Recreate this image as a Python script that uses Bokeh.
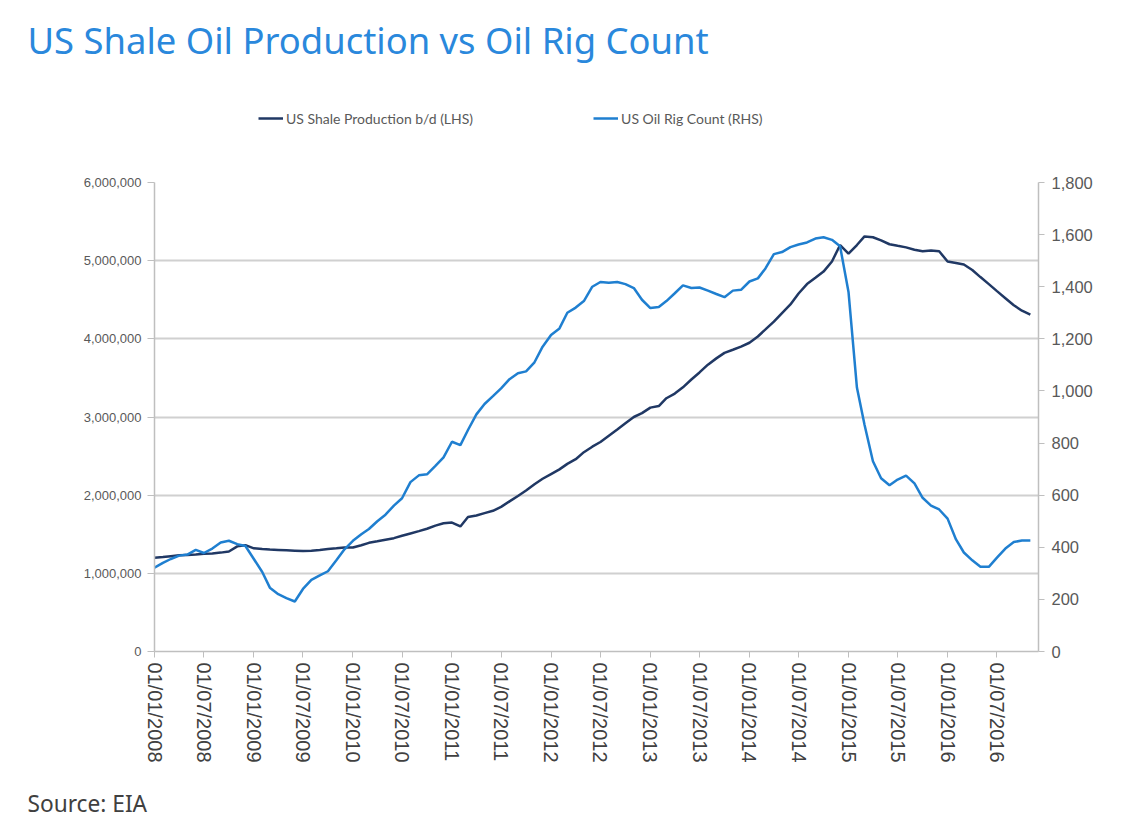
import pandas as pd
from bokeh.plotting import figure
from bokeh.layouts import column
from bokeh.models import (Range1d, LinearAxis, FixedTicker, NumeralTickFormatter,
                          DatetimeTickFormatter, Legend, LegendItem, Title)
from bokeh.embed import file_html
from bokeh.resources import INLINE
import math

# ---------------- data ----------------
months = pd.date_range("2008-01-01", "2016-11-01", freq="MS")

shale_production = [
    1200000, 1210000, 1220000, 1230000, 1235000, 1240000, 1250000, 1255000, 1265000, 1280000, 1345000, 1360000,
    1320000, 1310000, 1305000, 1300000, 1295000, 1290000, 1285000, 1290000, 1300000, 1310000, 1320000, 1330000,
    1330000, 1360000, 1390000, 1410000, 1430000, 1450000, 1480000, 1510000, 1540000, 1570000, 1610000, 1640000,
    1650000, 1600000, 1720000, 1740000, 1770000, 1800000, 1850000, 1920000, 1990000, 2060000, 2140000, 2210000,
    2270000, 2330000, 2400000, 2460000, 2550000, 2620000, 2680000, 2760000, 2840000, 2920000, 3000000, 3050000,
    3120000, 3140000, 3240000, 3300000, 3380000, 3480000, 3570000, 3670000, 3750000, 3820000, 3860000, 3900000,
    3950000, 4030000, 4120000, 4220000, 4330000, 4440000, 4580000, 4700000, 4780000, 4860000, 4990000, 5200000,
    5090000, 5200000, 5310000, 5300000, 5260000, 5210000, 5190000, 5170000, 5140000, 5120000, 5130000, 5120000,
    4990000, 4970000, 4950000, 4880000, 4790000, 4700000, 4610000, 4520000, 4430000, 4360000, 4310000,
]

oil_rig_count = [
    322, 340, 355, 368, 372, 390, 378, 395, 418, 425, 412, 405,
    355, 305, 245, 220, 205, 192, 240, 275, 292, 308, 350, 392,
    425, 450, 470, 500, 525, 560, 588, 650, 676, 680, 712, 745,
    805, 792, 850, 910, 950, 980, 1010, 1045, 1068, 1075, 1110, 1170,
    1215, 1240, 1300, 1320, 1345, 1400, 1418, 1415, 1418, 1410, 1395, 1350,
    1318, 1322, 1345, 1375, 1405, 1395, 1397, 1385, 1372, 1360, 1385, 1388,
    1420, 1432, 1470, 1525, 1533, 1552, 1562, 1570, 1585, 1590, 1580, 1555,
    1380, 1013, 870, 730, 665, 638, 660, 675, 645, 590, 560, 545,
    510, 430, 380, 350, 325, 325, 360, 395, 420, 426, 426,
]

x_tick_dates = pd.date_range("2008-01-01", "2016-07-01", freq="6MS")
left_ticks = [0, 1000000, 2000000, 3000000, 4000000, 5000000, 6000000]
right_ticks = [0, 200, 400, 600, 800, 1000, 1200, 1400, 1600, 1800]

title_text = "US Shale Oil Production vs Oil Rig Count"
source_text = "Source: EIA"
series_names = ["US Shale Production b/d (LHS)", "US Oil Rig Count (RHS)"]

# ---------------- styles ----------------
PROD_COLOR = "#203864"
RIG_COLOR = "#1F7FD0"
TITLE_COLOR = "#2A88DC"
TEXT_GRAY = "#595959"
AXIS_GRAY = "#BFBFBF"
GRID_GRAY = "#D0D0D0"

x_start = pd.Timestamp("2008-01-01")
x_end = pd.Timestamp("2016-12-01")

TOP_H = 172
MAIN_H = 839 - TOP_H

# ---------------- header figure (title + legend) ----------------
head = figure(width=1128, height=TOP_H, x_range=Range1d(x_start, x_end),
              y_range=Range1d(0, 6000000), x_axis_type="datetime",
              x_axis_location=None, y_axis_location=None,
              output_backend="svg", toolbar_location=None,
              min_border_left=154, min_border_right=90,
              min_border_top=64, min_border_bottom=0,
              background_fill_color="white", border_fill_color="white")
head.outline_line_color = None
head.grid.visible = False
h1 = head.line(months, shale_production, line_color=PROD_COLOR, line_width=2.5, visible=False)
h2 = head.line(months, shale_production, line_color=RIG_COLOR, line_width=2.5, visible=False)

head.add_layout(Title(text=title_text, align="left", offset=-127, standoff=0,
                      text_font="Noto Sans", text_font_size="36.4px", text_font_style="normal",
                      text_color=TITLE_COLOR), "above")

legend = Legend(items=[LegendItem(label=series_names[0], renderers=[h1]),
                       LegendItem(label=series_names[1], renderers=[h2])],
                orientation="horizontal", location=(104, TOP_H - 128),
                border_line_color=None, background_fill_alpha=0,
                inactive_fill_alpha=0,
                padding=0, margin=0, spacing=120, glyph_width=25, glyph_height=20,
                label_standoff=3, label_text_font="Lato", label_text_font_size="14px",
                label_text_color=TEXT_GRAY)
head.add_layout(legend, "center")

# ---------------- main chart ----------------
p = figure(width=1128, height=MAIN_H, x_axis_type="datetime",
           x_range=Range1d(x_start, x_end), y_range=Range1d(0, 6000000),
           output_backend="svg", toolbar_location=None,
           min_border_left=154, min_border_right=90,
           min_border_top=182 - TOP_H, min_border_bottom=188,
           background_fill_color="white", border_fill_color="white")
p.outline_line_color = None
p.extra_y_ranges = {"rig": Range1d(0, 1800)}

# left axis
yax = p.yaxis[0]
yax.ticker = FixedTicker(ticks=left_ticks)
yax.formatter = NumeralTickFormatter(format="0,0")
yax.axis_line_color = AXIS_GRAY
yax.axis_line_width = 1.5
yax.major_tick_line_color = AXIS_GRAY
yax.major_tick_out = 7
yax.major_tick_in = 0
yax.minor_tick_line_color = None
yax.major_label_text_font = "Liberation Sans"
yax.major_label_text_font_size = "13px"
yax.major_label_text_color = TEXT_GRAY
yax.major_label_standoff = 6

# right axis
rax = LinearAxis(y_range_name="rig", ticker=FixedTicker(ticks=right_ticks),
                 formatter=NumeralTickFormatter(format="0,0"))
rax.axis_line_color = AXIS_GRAY
rax.axis_line_width = 1.5
rax.major_tick_line_color = AXIS_GRAY
rax.major_tick_out = 6
rax.major_tick_in = 0
rax.minor_tick_line_color = None
rax.major_label_text_font = "Liberation Sans"
rax.major_label_text_font_size = "16.5px"
rax.major_label_text_color = TEXT_GRAY
rax.major_label_standoff = 7
p.add_layout(rax, "right")

# bottom axis
xax = p.xaxis[0]
xax.ticker = FixedTicker(ticks=[d.value // 10**6 for d in x_tick_dates])
xax.formatter = DatetimeTickFormatter(days="%d/%m/%Y", months="%d/%m/%Y", years="%d/%m/%Y")
xax.major_label_orientation = -math.pi / 2
xax.axis_line_color = AXIS_GRAY
xax.axis_line_width = 1.5
xax.major_tick_line_color = AXIS_GRAY
xax.major_tick_out = 6
xax.major_tick_in = 0
xax.minor_tick_line_color = None
xax.major_label_text_font = "Liberation Sans"
xax.major_label_text_font_size = "20px"
xax.major_label_text_color = "#404040"
xax.major_label_standoff = 5

p.xgrid.grid_line_color = None
p.ygrid.grid_line_color = GRID_GRAY
p.ygrid.grid_line_width = 2

r1 = p.line(months, shale_production, line_color=PROD_COLOR, line_width=2.5)
r2 = p.line(months, oil_rig_count, line_color=RIG_COLOR, line_width=2.5, y_range_name="rig")

p.add_layout(Title(text=source_text, align="left", offset=-127, standoff=41,
                   text_font="Noto Sans", text_font_size="22.7px", text_font_style="normal",
                   text_color="#404040"), "below")

layout = column(head, p, spacing=0)
open("out.html", "w").write(file_html(layout, INLINE))
